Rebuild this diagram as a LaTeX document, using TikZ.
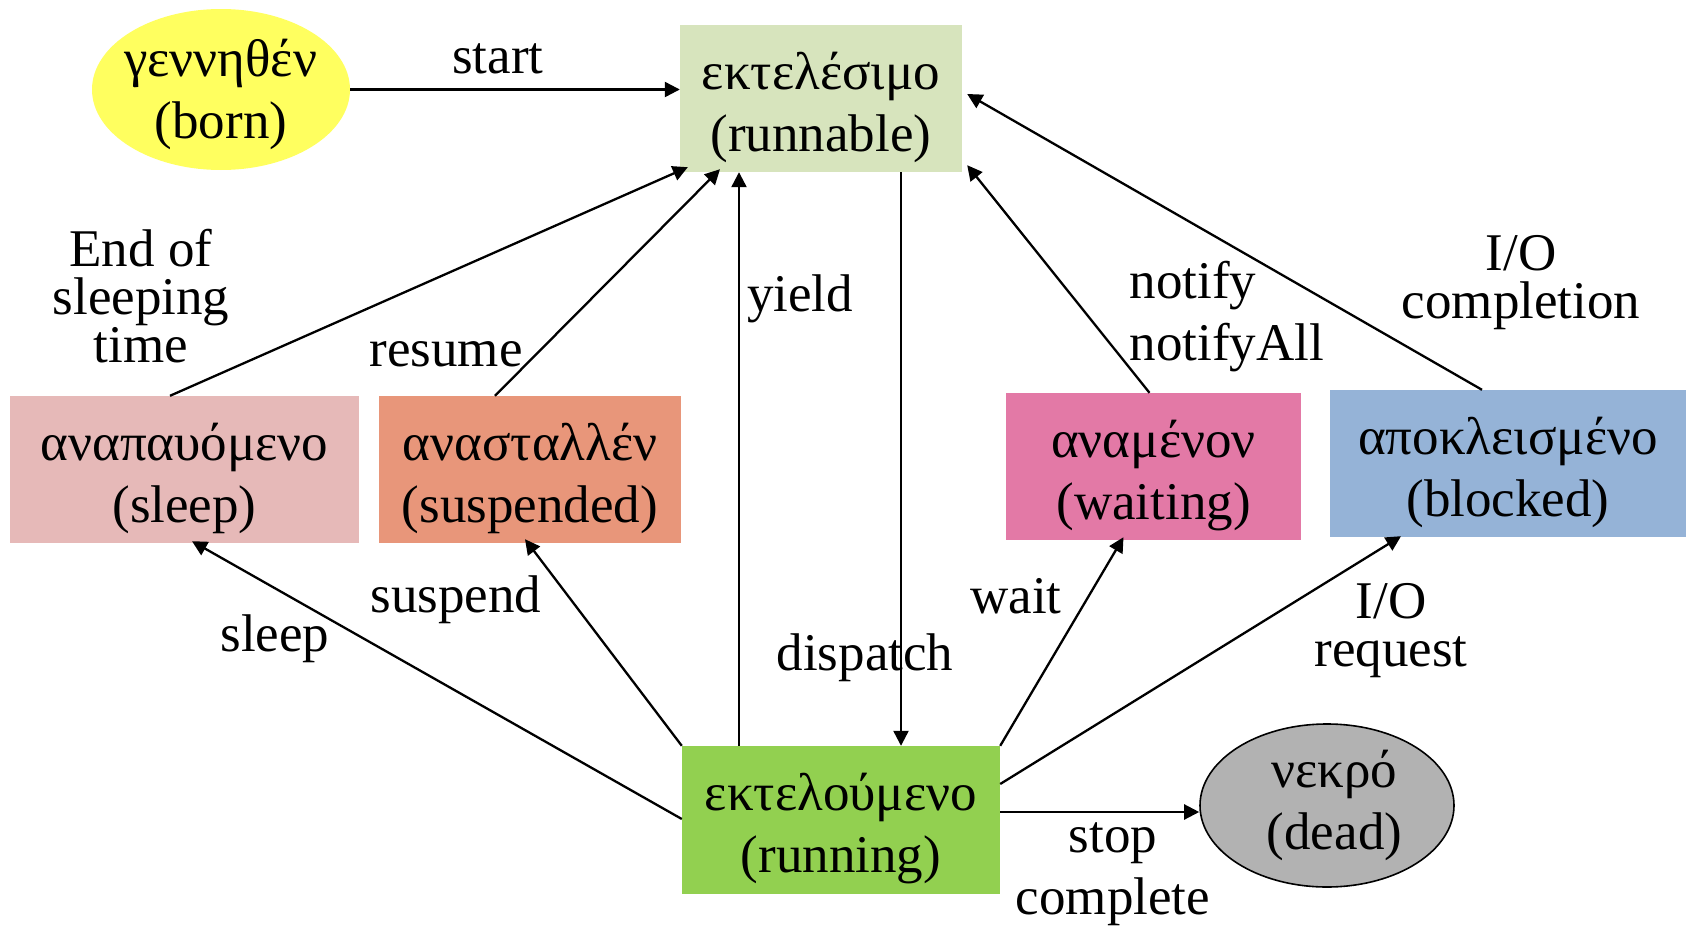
\documentclass[tikz,border=0pt]{standalone}
\usepackage{fontspec}
\setmainfont{Liberation Serif}
\usetikzlibrary{arrows.meta,shapes.geometric}
\definecolor{borncol}{HTML}{FFFF5F}
\definecolor{runnablecol}{HTML}{D7E4BD}
\definecolor{sleepcol}{HTML}{E6B9B8}
\definecolor{suspcol}{HTML}{E8967A}
\definecolor{waitcol}{HTML}{E379A6}
\definecolor{blockcol}{HTML}{95B3D7}
\definecolor{runcol}{HTML}{92D050}
\definecolor{deadcol}{HTML}{B2B2B2}
\newcommand{\topstrut}{\rule{0pt}{55pt}}
\begin{document}
\begin{tikzpicture}[x=1pt,y=-1pt, >={Triangle[length=15pt,width=15pt]},
  every node/.style={font=\fontsize{53}{62}\selectfont, align=center},
  state/.style={inner sep=0pt, minimum height=147pt},
  trans/.style={->, line width=2.3pt},
  lbl/.style={font=\fontsize{53}{48}\selectfont}]
\useasboundingbox (0,0) rectangle (1690,926);
\node (born) at (221,89.5) [ellipse, inner sep=0pt, inner xsep=-10pt, inner ysep=-6pt, minimum width=258pt, minimum height=161pt, fill=borncol] {\rule{0pt}{48pt}γεννηθέν\\(born)};
\node (runnable) at (821,98.5) [state, minimum width=282pt, fill=runnablecol] {\topstrut εκτελέσιμο\\(runnable)};
\node (sleep) at (184.5,469.5) [state, minimum width=349pt, fill=sleepcol] {\topstrut αναπαυόμενο\\(sleep)};
\node (suspended) at (530,469.5) [state, minimum width=302pt, fill=suspcol] {\topstrut ανασταλλέν\\(suspended)};
\node (waiting) at (1153.5,466.5) [state, minimum width=295pt, fill=waitcol] {\topstrut αναμένον\\(waiting)};
\node (blocked) at (1508,463.5) [state, minimum width=356pt, fill=blockcol] {\topstrut αποκλεισμένο\\(blocked)};
\node (running) at (841,820) [state, minimum width=318pt, minimum height=148pt, fill=runcol] {\topstrut εκτελούμενο\\(running)};
\node (dead) at (1327,805.5) [ellipse, inner sep=0pt, minimum width=254pt, minimum height=163pt, draw=black, line width=1.6pt, fill=deadcol] {\hspace*{15pt}νεκρό\\\hspace*{15pt}(dead)};
% edge labels
\node (lstart) at (498,59) [lbl] {start};
\node (lsleeptime) at (141,296) [lbl] {End of\\sleeping\\time};
\node (lresume) at (446,354) [lbl] {resume};
\node (lyield) at (800,299) [lbl] {yield};
\node (ldispatch) at (865,658) [lbl] {dispatch};
\node (lnotify) at (1126,317) [anchor=west, align=left] {notify\\notifyAll};
\node (lcompletion) at (1521,283) [lbl] {I/O\\completion};
\node (lsleep) at (275,639) [lbl] {sleep};
\node (lsuspend) at (456,600) [lbl] {suspend};
\node (lwait) at (1016,596) [lbl] {wait};
\node (lrequest) at (1391,631) [lbl] {I/O\\request};
\node (lstop) at (1113,874) [font=\fontsize{53}{62}\selectfont] {stop\\complete};
% transitions
\draw[trans] (born.east) -- ([yshift=9pt]runnable.west);
\draw[trans] ([xshift=-14.5pt]sleep.north) -- ([xshift=8pt,yshift=5pt]runnable.south west);
\draw[trans] ([xshift=-35pt]suspended.north) -- ([xshift=-101pt,yshift=3pt]runnable.south);
\draw[trans] ([xshift=-102pt]running.north) -- ([xshift=-82pt]runnable.south);
\draw[trans] ([xshift=80pt]runnable.south) -- ([xshift=60pt]running.north);
\draw[trans] ([xshift=-4pt]waiting.north) -- ([xshift=5pt,yshift=7pt]runnable.south east);
\draw[trans] ([xshift=-26pt]blocked.north) -- ([xshift=5pt,yshift=4.5pt]runnable.east);
\draw[trans] ([yshift=1pt]running.west) -- ([xshift=7.5pt,yshift=2pt]sleep.south);
\draw[trans] (running.north west) -- ([xshift=-5pt,yshift=4pt]suspended.south);
\draw[trans] (running.north east) -- ([xshift=-30pt,yshift=3pt]waiting.south);
\draw[trans] ([yshift=36pt]running.east) -- ([xshift=-107pt,yshift=1pt]blocked.south);
\draw[trans] ([yshift=8pt]running.east) -- ([yshift=-6.5pt]dead.west);
\end{tikzpicture}
\end{document}
